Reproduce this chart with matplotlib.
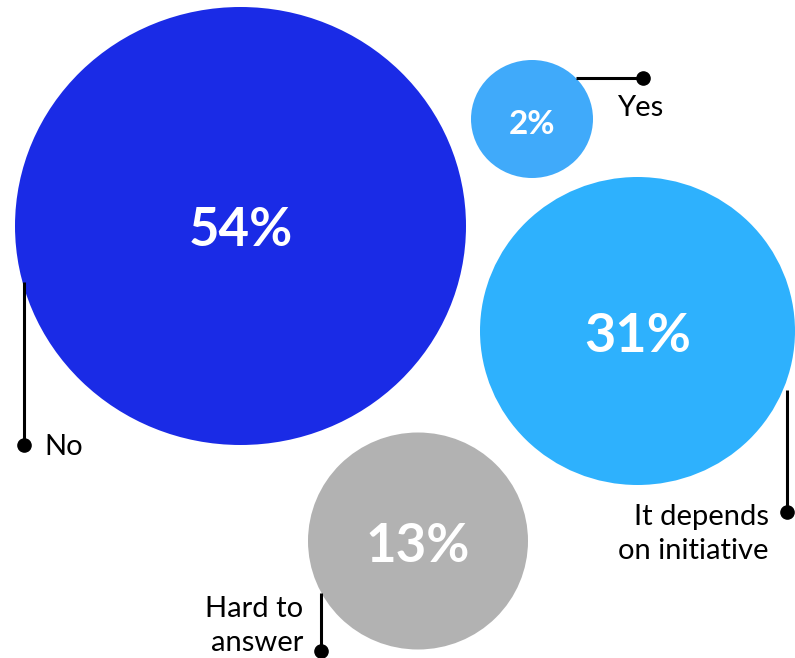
import matplotlib
matplotlib.use("Agg")
import matplotlib.pyplot as plt
from matplotlib.patches import Ellipse

# data
categories = ["No", "Yes", "It depends\non initiative", "Hard to\nanswer"]
values = [54, 2, 31, 13]

# layout (pixel coords, y grows downward)
centers = [(240.5, 226), (532, 119), (637.5, 331), (418, 541)]
widths = [451, 122, 315, 220]
heights = [438, 118, 308, 217]
colors = ["#1A2BE6", "#40AAFA", "#2EB1FD", "#B2B2B2"]
pct_sizes = [38, 24, 39, 38]

# leader lines: start point on circle -> dot
leaders = [((24, 282), (24, 445)),
           ((576, 78), (643, 78)),
           ((787, 390), (787, 512)),
           ((321, 593), (321, 651))]
label_pos = [(44, 447, "left", "center"),
             (617, 108, "left", "center"),
             (769, 504, "right", "top"),
             (303, 596, "right", "top")]

fig = plt.figure(figsize=(7.95, 6.58), dpi=100)
ax = fig.add_axes([0, 0, 1, 1])
ax.set_xlim(0, 795)
ax.set_ylim(658, 0)
ax.axis("off")

for (cx, cy), w, h, c in zip(centers, widths, heights, colors):
    ax.add_patch(Ellipse((cx, cy), w, h, color=c, lw=0, zorder=1))

for (cx, cy), v, fs in zip(centers, values, pct_sizes):
    ax.text(cx, cy + 5, f"{v}%", color="white", fontsize=fs, fontweight="bold",
            family="Lato", ha="center", va="center", zorder=3)

for (p0, p1) in leaders:
    ax.plot([p0[0], p1[0]], [p0[1], p1[1]], color="black", lw=2.2, zorder=2,
            solid_capstyle="butt")
    ax.plot(p1[0], p1[1], "o", color="black", ms=9.5, zorder=2)

for cat, (x, y, ha, va) in zip(categories, label_pos):
    ax.text(x, y, cat, fontsize=21, family="Lato", ha=ha, va=va,
            color="black", linespacing=1.4, zorder=3)

fig.savefig("out.png", dpi=100)
